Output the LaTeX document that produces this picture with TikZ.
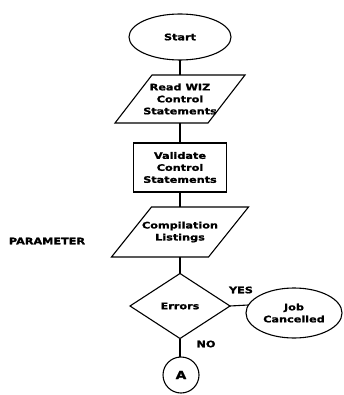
\documentclass[tikz,border=0pt]{standalone}
\usepackage{fontspec}
\setmainfont{DejaVu Sans}
\newfontfamily\chartfont[FakeStretch=1.25,FakeBold=1.2]{DejaVu Sans Bold}
\usetikzlibrary{shapes.geometric}
\begin{document}
\begin{tikzpicture}[x=1pt,y=-1pt,
  every node/.style={font=\chartfont\fontsize{9}{12}\selectfont, align=center, inner sep=0pt, outer sep=0pt},
  line/.style={line width=1.1pt},
  term/.style={ellipse, draw, line width=1.1pt},
  iobox/.style={draw=none},
  procbox/.style={rectangle, draw, line width=1.1pt},
  decbox/.style={diamond, draw, line width=1.1pt},
  conn/.style={circle, draw, line width=1.1pt, minimum size=36pt},
  lbl/.style={}
]
\useasboundingbox (0,0) rectangle (344,395);
\node[term, minimum width=102pt, minimum height=46pt] (start) at (180,37) {Start};
\node[iobox, minimum width=93pt, minimum height=48pt] (read) at (180,99) {Read WIZ\\Control\\Statements};
\draw[line] ([xshift=18.5pt]read.north west) -- ([xshift=18.5pt]read.north east)
  -- ([xshift=-18.5pt]read.south east) -- ([xshift=-18.5pt]read.south west) -- cycle;
\node[procbox, minimum width=93pt, minimum height=49pt] (valid) at (180,167.5) {Validate\\Control\\Statements};
\node[iobox, minimum width=97pt, minimum height=50pt] (comp) at (180,232) {Compilation\\Listings};
\draw[line] ([xshift=20pt]comp.north west) -- ([xshift=20pt]comp.north east)
  -- ([xshift=-20pt]comp.south east) -- ([xshift=-20pt]comp.south west) -- cycle;
\node[decbox, minimum width=100pt, minimum height=65pt] (err) at (180,306) {Errors};
\node[term, minimum width=96pt, minimum height=50pt] (job) at (294,313) {Job\\Cancelled};
\node[conn, font=\chartfont\fontsize{11}{12}\selectfont] (conA) at (181,375) {A};
\node[lbl] (yes) at (241,290) {YES};
\node[lbl] (no) at (206,344) {NO};
\node[lbl] (param) at (47,241) {PARAMETER};
\draw[line] (start.south) -- (read.north);
\draw[line] (read.south) -- (valid.north);
\draw[line] (valid.south) -- (comp.north);
\draw[line] (comp.south) -- (err.north);
\draw[line] (err.east) -- (job.170);
\draw[line] (err.south) -- (err.south |- conA.north);
\end{tikzpicture}
\end{document}
